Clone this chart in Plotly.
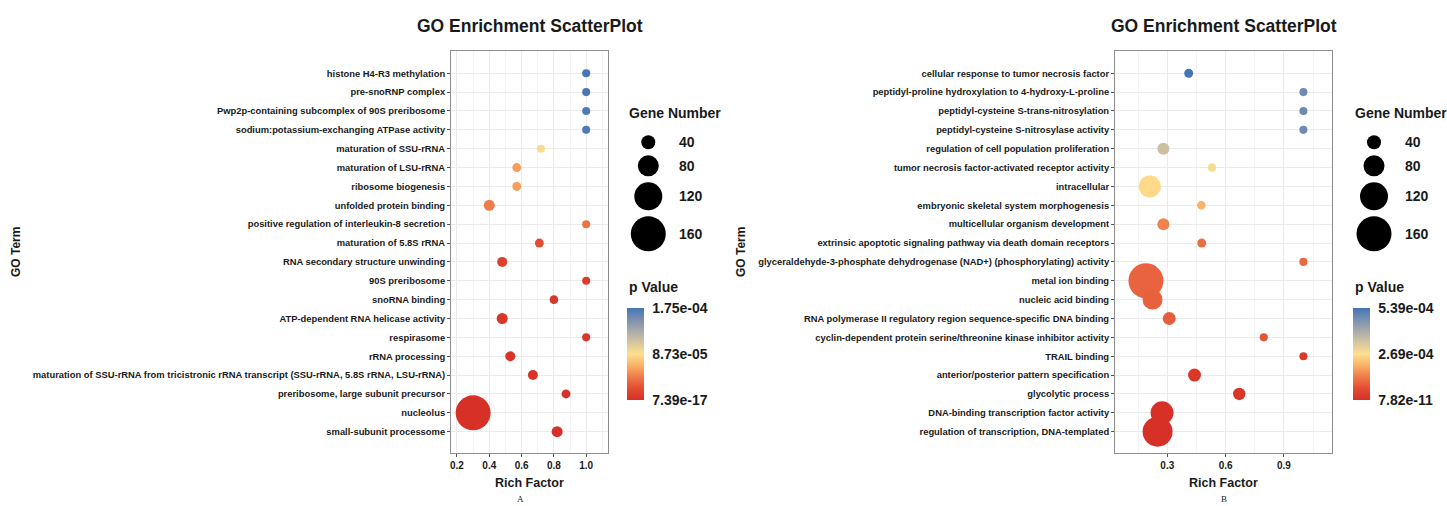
import plotly.graph_objects as go

W, H = 1447, 506
FONT = "Liberation Sans, Arial, Helvetica, sans-serif"
DARK = "#1a1a1a"

# ---------------- Panel A data (top to bottom) ----------------
terms_a = [
    "histone H4-R3 methylation",
    "pre-snoRNP complex",
    "Pwp2p-containing subcomplex of 90S preribosome",
    "sodium:potassium-exchanging ATPase activity",
    "maturation of SSU-rRNA",
    "maturation of LSU-rRNA",
    "ribosome biogenesis",
    "unfolded protein binding",
    "positive regulation of interleukin-8 secretion",
    "maturation of 5.8S rRNA",
    "RNA secondary structure unwinding",
    "90S preribosome",
    "snoRNA binding",
    "ATP-dependent RNA helicase activity",
    "respirasome",
    "rRNA processing",
    "maturation of SSU-rRNA from tricistronic rRNA transcript (SSU-rRNA, 5.8S rRNA, LSU-rRNA)",
    "preribosome, large subunit precursor",
    "nucleolus",
    "small-subunit processome",
]
rich_a = [1.0, 1.0, 1.0, 1.0, 0.72, 0.57, 0.57, 0.40, 1.0, 0.71,
          0.48, 1.0, 0.80, 0.48, 1.0, 0.53, 0.67, 0.875, 0.30, 0.82]
genes_a = [6, 6, 6, 6, 6, 11, 11, 23, 6, 11,
           17, 6, 9, 23, 6, 17, 17, 11, 160, 23]
pval_a = [1.746e-4, 1.72e-4, 1.70e-4, 1.70e-4, 9.1e-5, 5.8e-5, 5.8e-5, 4.4e-5, 4.0e-5, 2.1e-5,
          1.2e-5, 9.0e-6, 5.0e-6, 5.0e-6, 4.0e-6, 3.0e-6, 2.0e-6, 1.0e-6, 7.39e-17, 1.0e-8]

# ---------------- Panel B data (top to bottom) ----------------
terms_b = [
    "cellular response to tumor necrosis factor",
    "peptidyl-proline hydroxylation to 4-hydroxy-L-proline",
    "peptidyl-cysteine S-trans-nitrosylation",
    "peptidyl-cysteine S-nitrosylase activity",
    "regulation of cell population proliferation",
    "tumor necrosis factor-activated receptor activity",
    "intracellular",
    "embryonic skeletal system morphogenesis",
    "multicellular organism development",
    "extrinsic apoptotic signaling pathway via death domain receptors",
    "glyceraldehyde-3-phosphate dehydrogenase (NAD+) (phosphorylating) activity",
    "metal ion binding",
    "nucleic acid binding",
    "RNA polymerase II regulatory region sequence-specific DNA binding",
    "cyclin-dependent protein serine/threonine kinase inhibitor activity",
    "TRAIL binding",
    "anterior/posterior pattern specification",
    "glycolytic process",
    "DNA-binding transcription factor activity",
    "regulation of transcription, DNA-templated",
]
rich_b = [0.41, 1.0, 1.0, 1.0, 0.28, 0.53, 0.21, 0.475, 0.28, 0.477,
          1.0, 0.19, 0.224, 0.31, 0.796, 1.0, 0.44, 0.67, 0.273, 0.25]
genes_b = [11, 6, 6, 6, 29, 9, 86, 9, 29, 11,
           6, 160, 74, 34, 6, 6, 34, 31, 91, 131]
pval_b = [5.386e-4, 4.85e-4, 4.85e-4, 4.85e-4, 3.5e-4, 2.8e-4, 2.6e-4, 2.05e-4, 1.45e-4, 1.13e-4,
          1.08e-4, 1.0e-4, 9.7e-5, 9.2e-5, 8.0e-5, 2.2e-5, 1.6e-5, 1.1e-5, 1.0e-6, 7.82e-11]

size_legend_vals = [40, 80, 120, 160]
xticks_a = [0.2, 0.4, 0.6, 0.8, 1.0]
xticks_b = [0.3, 0.6, 0.9]

colorscale = [
    [0.0, "#d73027"], [0.125, "#e14d34"], [0.25, "#ef7a48"], [0.375, "#fbb067"],
    [0.5, "#fee090"], [0.625, "#d6c6a0"], [0.75, "#a9aaa9"], [0.875, "#7a8fb1"],
    [1.0, "#4575b4"],
]


def diam(n):
    return 7 + 0.175 * n


def px_x(p):
    return p / W


def px_y(p):
    return 1 - p / H


fig = go.Figure()

panels = [
    dict(terms=terms_a, rich=rich_a, genes=genes_a, pval=pval_a, xa="x", ya="y", ca="coloraxis"),
    dict(terms=terms_b, rich=rich_b, genes=genes_b, pval=pval_b, xa="x2", ya="y2", ca="coloraxis2"),
]
for p in panels:
    n = len(p["terms"])
    ys = [n - 1 - i for i in range(n)]
    fig.add_trace(go.Scatter(
        x=p["rich"], y=ys, mode="markers", xaxis=p["xa"], yaxis=p["ya"],
        marker=dict(size=[diam(g) for g in p["genes"]], sizemode="diameter",
                    color=p["pval"], coloraxis=p["ca"], line=dict(width=0), opacity=1),
        showlegend=False, hoverinfo="skip",
    ))

# size legends on a hidden pixel-space axis
legend_x = [648.3, 1374.0]
label_x = [677.0, 1403.0]
ds = [diam(v) for v in size_legend_vals]
ys_leg = [142.3]
for i in range(1, len(ds)):
    ys_leg.append(ys_leg[-1] + (ds[i - 1] + ds[i]) / 2 + 6)
for k in range(2):
    fig.add_trace(go.Scatter(
        x=[legend_x[k]] * len(ds), y=ys_leg, mode="markers", xaxis="x3", yaxis="y3",
        marker=dict(size=ds, sizemode="diameter", color="#000000", opacity=1,
                    line=dict(width=0)),
        showlegend=False, hoverinfo="skip",
    ))

annotations = []
bold = dict(family=FONT, color=DARK, weight="bold")
for k in range(2):
    for v, yy in zip(size_legend_vals, ys_leg):
        annotations.append(dict(x=label_x[k], y=yy, xref="x3", yref="y3", text=str(v),
                                showarrow=False, xanchor="left", yanchor="middle",
                                font=dict(size=14, **bold)))
legend_left = [626.7, 1352.7]
for k in range(2):
    annotations.append(dict(x=px_x(legend_left[k]), y=px_y(112.7), xref="paper", yref="paper",
                            text="Gene Number", showarrow=False, xanchor="left", yanchor="middle",
                            font=dict(size=14, **bold)))
    annotations.append(dict(x=px_x(legend_left[k]), y=px_y(287), xref="paper", yref="paper",
                            text="p Value", showarrow=False, xanchor="left", yanchor="middle",
                            font=dict(size=14, **bold)))

plot_l = [451, 1115]
plot_r = [608, 1332]
for k, lab in enumerate(["A", "B"]):
    cx = (plot_l[k] + plot_r[k]) / 2
    annotations.append(dict(x=px_x(cx), y=px_y(26), xref="paper", yref="paper",
                            text="GO Enrichment ScatterPlot", showarrow=False,
                            xanchor="center", yanchor="middle", font=dict(size=17.5, **bold)))
    annotations.append(dict(x=px_x(cx), y=px_y(483), xref="paper", yref="paper",
                            text="Rich Factor", showarrow=False,
                            xanchor="center", yanchor="middle", font=dict(size=12.5, **bold)))
    annotations.append(dict(x=px_x([520, 1224][k]), y=px_y(499), xref="paper", yref="paper",
                            text=lab, showarrow=False, xanchor="center", yanchor="middle",
                            font=dict(size=9, family="Liberation Serif, Times New Roman, serif",
                                      color=DARK)))
    annotations.append(dict(x=px_x([16, 741][k]), y=px_y(252), xref="paper", yref="paper",
                            text="GO Term", showarrow=False, textangle=-90,
                            xanchor="center", yanchor="middle", font=dict(size=12, **bold)))

ydom = [px_y(453), px_y(51)]
common_x = dict(showgrid=True, gridcolor="#ebebeb", gridwidth=1, zeroline=False,
                showline=True, linecolor="#8c8c8c", linewidth=1, mirror=True,
                ticks="outside", ticklen=3, tickcolor="#555555",
                tickfont=dict(size=10, **bold))
common_y = dict(showgrid=True, gridcolor="#ebebeb", gridwidth=1, zeroline=False,
                showline=True, linecolor="#8c8c8c", linewidth=1, mirror=True,
                ticks="outside", ticklen=3, tickcolor="#555555",
                tickfont=dict(size=9.4, **bold), range=[-1.13, 20.18])

n_a = len(terms_a)
n_b = len(terms_b)


def cb(vals, x_left):
    lo, hi = min(vals), max(vals)
    mid = (lo + hi) / 2
    return dict(
        cmin=lo, cmax=hi, colorscale=colorscale,
        colorbar=dict(x=px_x(x_left), xanchor="left", y=px_y(308), yanchor="top",
                      thickness=17, thicknessmode="pixels", len=92, lenmode="pixels",
                      xpad=0, ypad=0, outlinewidth=0,
                      ticks="outside", ticklen=6, tickcolor="rgba(0,0,0,0)",
                      tickvals=[lo, mid, hi], ticktext=["%.2e" % v for v in (lo, mid, hi)],
                      tickfont=dict(size=14, **bold)),
    )


fig.update_layout(
    width=W, height=H, margin=dict(l=0, r=0, t=0, b=0),
    paper_bgcolor="white", plot_bgcolor="rgba(0,0,0,0)",
    font=dict(family=FONT, color=DARK),
    xaxis=dict(domain=[px_x(451), px_x(608)], range=[0.163, 1.135], anchor="y",
               tickvals=xticks_a, ticktext=["%.1f" % v for v in xticks_a],
               minor=dict(tickvals=[0.3, 0.5, 0.7, 0.9, 1.1], showgrid=True,
                          gridcolor="#f4f4f4", ticks=""),
               **common_x),
    yaxis=dict(domain=ydom, anchor="x", tickvals=list(range(n_a)),
               ticktext=list(reversed(terms_a)), **common_y),
    xaxis2=dict(domain=[px_x(1115), px_x(1332)], range=[0.031, 1.147], anchor="y2",
                tickvals=xticks_b, ticktext=["%.1f" % v for v in xticks_b],
                minor=dict(tickvals=[0.15, 0.45, 0.75, 1.05], showgrid=True,
                           gridcolor="#f4f4f4", ticks=""),
                **common_x),
    yaxis2=dict(domain=ydom, anchor="x2", tickvals=list(range(n_b)),
                ticktext=list(reversed(terms_b)), **common_y),
    xaxis3=dict(domain=[0, 1], range=[0, W], visible=False, anchor="y3"),
    yaxis3=dict(domain=[0, 1], range=[H, 0], visible=False, anchor="x3"),
    coloraxis=cb(pval_a, 626.7),
    coloraxis2=cb(pval_b, 1352.7),
    annotations=annotations,
)

fig.write_html("out.html")
